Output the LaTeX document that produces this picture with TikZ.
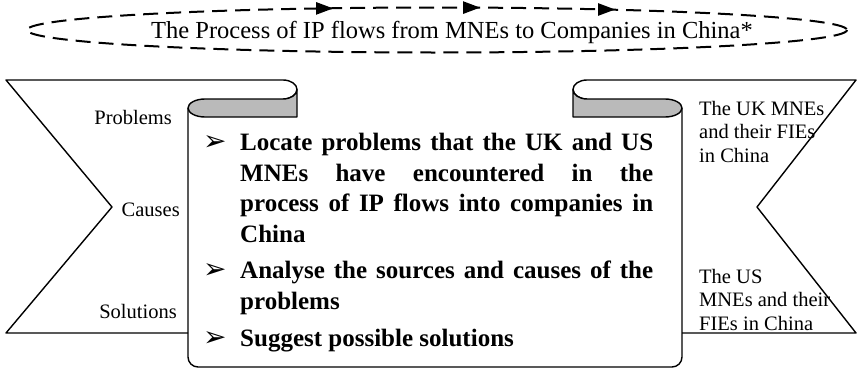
\documentclass[tikz,border=0pt]{standalone}
\usepackage{fontspec}
\setmainfont{Liberation Serif}
\newfontfamily\symfont{DejaVu Sans}
\begin{document}
\begin{tikzpicture}[x=1pt,y=-1pt,
  outline/.style={line width=1.4pt, line join=round},
  rollshade/.style={fill=black!27},
  sidelabel/.style={inner sep=0pt, anchor=base west, font=\fontsize{20.5}{23.5}\selectfont},
  leftlabel/.style={inner sep=0pt, anchor=base east, font=\fontsize{20.5}{23.5}\selectfont},
  pointtext/.style={inner sep=0pt, anchor=base west, font=\bfseries\fontsize{25}{31}\selectfont},
  pointmark/.style={inner sep=0pt, anchor=west, font=\symfont\fontsize{28}{30}\selectfont},
  flowtip/.style={fill=black}]
\useasboundingbox (0,0) rectangle (860,370);

% dashed title ellipse with flow arrowheads
\draw[line width=2pt, dash pattern=on 15pt off 8pt] (437,30) ellipse [x radius=410, y radius=22.5];
\fill[flowtip] (333,8.4) -- (316,2) -- (316,14.8) -- cycle;
\fill[flowtip] (480,7.6) -- (463,1.2) -- (463,14) -- cycle;
\fill[flowtip] (615,9.5) -- (598,3.1) -- (598,15.9) -- cycle;
\node[inner sep=0pt, anchor=base, font=\fontsize{24.5}{29}\selectfont] (title) at (452,38)
  {The Process of IP flows from MNEs to Companies in China*};

% left banner with the upper left roll of the scroll
\draw[outline] (188,333) -- (6,333) -- (112,207) -- (6,80) -- (283,80)
  arc[start angle=-90, end angle=90, x radius=14, y radius=9.5];
% right banner with the upper right roll
\draw[outline] (682,333) -- (856,333) -- (757,207) -- (856,80) -- (587,80)
  arc[start angle=-90, end angle=-270, x radius=14, y radius=9.5];

% shaded inner rolls
\draw[outline, rollshade] (297,117) -- (297,89.5)
  arc[start angle=0, end angle=90, x radius=14, y radius=9.5]
  -- (205,99) arc[start angle=-90, end angle=-270, x radius=17, y radius=9] -- cycle;
\draw[outline, rollshade] (573,117) -- (573,89.5)
  arc[start angle=180, end angle=90, x radius=14, y radius=9.5]
  -- (665,99) arc[start angle=-90, end angle=90, x radius=17, y radius=9] -- cycle;

% scroll sheet
\draw[outline, rounded corners=10pt] (188,108) -- (188,367) -- (682,367) -- (682,108);

% side labels
\node[leftlabel] (problems) at (172,124) {Problems};
\node[leftlabel] (causes) at (180,216) {Causes};
\node[leftlabel] (solutions) at (177,318) {Solutions};

\node[sidelabel] (uk1) at (699,115) {The UK MNEs};
\node[sidelabel] (uk2) at (699,138.5) {and their FIEs};
\node[sidelabel] (uk3) at (699,162) {in China};
\node[sidelabel] (us1) at (699,283) {The US};
\node[sidelabel] (us2) at (699,306.5) {MNEs and their};
\node[sidelabel] (us3) at (699,330) {FIEs in China};

% points on the scroll
\node[pointmark] (m1) at (203,143) {➢};
\node[pointtext] (p1a) at (240,150) {\makebox[413pt][s]{Locate problems that the UK and US}};
\node[pointtext] (p1b) at (240,181) {\makebox[413pt][s]{MNEs have encountered in the}};
\node[pointtext] (p1c) at (240,211) {\makebox[413pt][s]{process of IP flows into companies in}};
\node[pointtext] (p1d) at (240,242) {China};
\node[pointmark] (m2) at (203,271) {➢};
\node[pointtext] (p2a) at (240,278) {\makebox[413pt][s]{Analyse the sources and causes of the}};
\node[pointtext] (p2b) at (240,309) {problems};
\node[pointmark] (m3) at (203,339) {➢};
\node[pointtext] (p3) at (240,346) {Suggest possible solutions};
\end{tikzpicture}
\end{document}
